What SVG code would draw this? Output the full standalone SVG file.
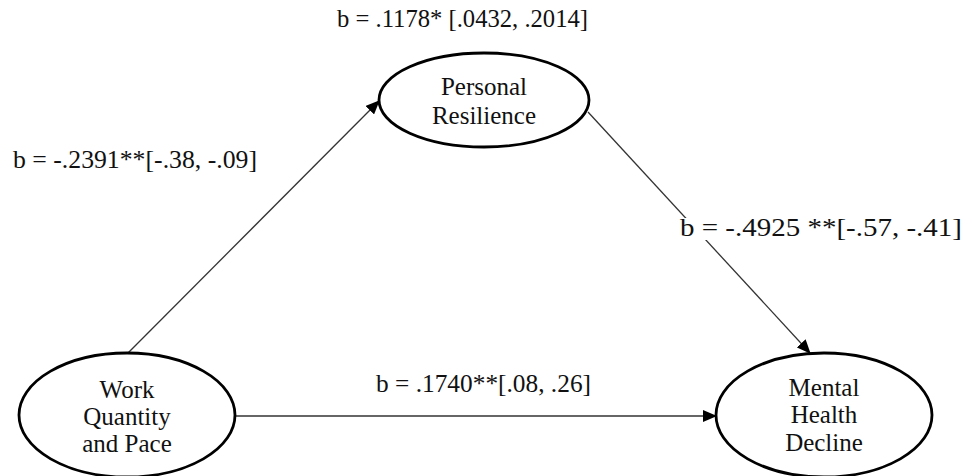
<svg xmlns="http://www.w3.org/2000/svg" width="967" height="476" viewBox="0 0 967 476">
<style>
.node ellipse{fill:#fff;stroke:#000;stroke-width:2.8}
.nt{text-anchor:middle}
.edge{stroke:#333;stroke-width:1.3;fill:none;marker-end:url(#ah)}
</style>
<defs>
<marker id="ah" markerWidth="14" markerHeight="12" refX="13" refY="6" orient="auto" markerUnits="userSpaceOnUse">
<path d="M0,0 L14,6 L0,12 Z" fill="#000"/>
</marker>
</defs>
<rect width="967" height="476" fill="#fff"/>
<g id="connectors">
<line class="edge" x1="128" y1="353" x2="379" y2="101"/>
<line class="edge" x1="588" y1="112" x2="810" y2="353"/>
<line class="edge" x1="236" y1="416" x2="716" y2="416"/>
</g>
<g id="labels">
<text style="font-family:'Liberation Serif',serif;font-size:25px;fill:#111" x="337" y="27" textLength="251" lengthAdjust="spacingAndGlyphs">b = .1178* [.0432, .2014]</text>
<text style="font-family:'Liberation Serif',serif;font-size:25px;fill:#111" x="13" y="168" textLength="244" lengthAdjust="spacingAndGlyphs">b = -.2391**[-.38, -.09]</text>
<rect x="678" y="218" width="286" height="22" fill="#fff"/>
<text style="font-family:'Liberation Serif',serif;font-size:25px;fill:#111" x="680" y="236" textLength="282" lengthAdjust="spacingAndGlyphs">b = -.4925 **[-.57, -.41]</text>
<text style="font-family:'Liberation Serif',serif;font-size:25px;fill:#111" x="376" y="392" textLength="215" lengthAdjust="spacingAndGlyphs">b = .1740**[.08, .26]</text>
</g>
<g id="personal-resilience" class="node">
<ellipse cx="484" cy="100" rx="105" ry="47"/>
<text class="nt" style="font-family:'Liberation Serif',serif;font-size:25px;fill:#111" x="484" y="95">Personal</text>
<text class="nt" style="font-family:'Liberation Serif',serif;font-size:25px;fill:#111" x="484" y="124">Resilience</text>
</g>
<g id="work-quantity" class="node">
<ellipse cx="127" cy="415" rx="108" ry="62"/>
<text class="nt" style="font-family:'Liberation Serif',serif;font-size:25px;fill:#111" x="127" y="398">Work</text>
<text class="nt" style="font-family:'Liberation Serif',serif;font-size:25px;fill:#111" x="127" y="425">Quantity</text>
<text class="nt" style="font-family:'Liberation Serif',serif;font-size:25px;fill:#111" x="127" y="452">and Pace</text>
</g>
<g id="mental-health" class="node">
<ellipse cx="824" cy="415" rx="108" ry="62"/>
<text class="nt" style="font-family:'Liberation Serif',serif;font-size:25px;fill:#111" x="824" y="396">Mental</text>
<text class="nt" style="font-family:'Liberation Serif',serif;font-size:25px;fill:#111" x="824" y="423">Health</text>
<text class="nt" style="font-family:'Liberation Serif',serif;font-size:25px;fill:#111" x="824" y="451">Decline</text>
</g>
</svg>
